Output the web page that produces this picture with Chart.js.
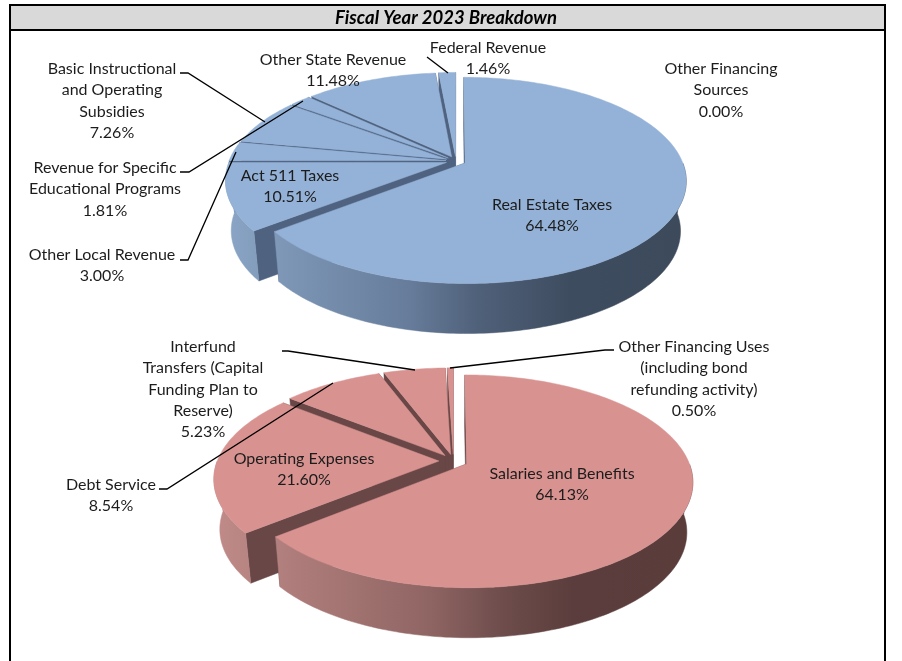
<!DOCTYPE html>
<html><head><meta charset="utf-8">
<script src="https://cdn.jsdelivr.net/npm/chart.js@4"></script>
<style>
html,body{margin:0;padding:0;background:#fff;overflow:hidden}
#frame{position:absolute;left:9px;top:4px;width:873px;height:700px;border:2px solid #000;box-sizing:content-box}
#strip{position:absolute;left:0;top:0;right:0;height:23px;background:#d9d9d9;border-bottom:2px solid #000}
canvas{position:absolute;left:0;top:0}
</style></head><body>
<div id="frame"><div id="strip"></div></div>
<canvas id="rev" width="902" height="661"></canvas>
<canvas id="exp" width="902" height="661"></canvas>
<script>
const chartTitle = 'Fiscal Year 2023 Breakdown';

const revenueLabels = ['Real Estate Taxes','Act 511 Taxes','Other Local Revenue','Basic Instructional and Operating Subsidies','Revenue for Specific Educational Programs','Other State Revenue','Federal Revenue','Other Financing Sources'];
const revenueValues = [64.48,10.51,3.00,7.26,1.81,11.48,1.46,0.00];
const expenseLabels = ['Salaries and Benefits','Operating Expenses','Debt Service','Interfund Transfers (Capital Funding Plan to Reserve)','Other Financing Uses (including bond refunding activity)'];
const expenseValues = [64.13,21.60,8.54,5.23,0.50];

/* display layout, kept apart from the data */
const revenueText = [
 {i:0,x:552,y:205,lines:['Real Estate Taxes']},
 {i:1,x:290,y:176,lines:['Act 511 Taxes']},
 {i:2,x:102,y:255,lines:['Other Local Revenue']},
 {i:3,x:112,y:69,lines:['Basic Instructional','and Operating','Subsidies']},
 {i:4,x:105,y:168,lines:['Revenue for Specific','Educational Programs']},
 {i:5,x:333,y:60,lines:['Other State Revenue']},
 {i:6,x:488,y:48,lines:['Federal Revenue']},
 {i:7,x:721,y:69,lines:['Other Financing','Sources']}
];
const expenseText = [
 {i:0,x:562,y:474,lines:['Salaries and Benefits']},
 {i:1,x:304,y:459,lines:['Operating Expenses']},
 {i:2,x:111,y:485,lines:['Debt Service']},
 {i:3,x:203,y:347,lines:['Interfund','Transfers (Capital','Funding Plan to','Reserve)']},
 {i:4,x:694,y:347,lines:['Other Financing Uses','(including bond','refunding activity)']}
];
const revenueLeaders = [[[180,73],[188,73],[265,122]],[[180,172],[189,172],[303,101]],[[180,260],[188,260],[236,152]],[[427,57],[448,73]]];
const expenseLeaders = [[[282,351],[288,351],[415,370]],[[159,489],[167,489],[333,383]],[[614,350],[605,350],[450,368]]];

const revenueStyle = {cx:456,cy:161,R:217,K:99.5,p:0.168,depth:50,shrink:0.975,xMin:226,xMax:686,explode:15,
  top:'#94b2d7',wall:'#4f6280',
  grad:[[0,'#8aa5c6'],[0.12,'#7e97b6'],[0.4,'#667c9a'],[0.55,'#4f6079'],[0.75,'#3e4c5f'],[1,'#3c4a5c']]};
const expenseStyle = {cx:453.5,cy:461,R:221.7,K:102.6,p:0.163,depth:50,shrink:0.975,xMin:213,xMax:694,explode:21,
  top:'#d89391',wall:'#684746',
  grad:[[0,'#c08b89'],[0.14,'#b17f7d'],[0.45,'#8f6563'],[0.6,'#6e4d4c'],[0.75,'#5a3d3c'],[1,'#5a3c3b']]};

function pie3d(style,textRows,values,leaders,withTitle){
  return {
    id:'pie3d',
    beforeDatasetsDraw(chart){
      const ctx=chart.ctx, arcs=chart.getDatasetMeta(0).data;
      const top=(u,v)=>{const w=1-style.p*v;return [style.cx+style.R*u/w,style.cy+style.K*v/w];};
      const base=(u,v)=>{const w=1-style.p*v;return [style.cx+style.R*style.shrink*u/w,style.cy+style.depth+style.K*v/w];};
      const grad=ctx.createLinearGradient(style.xMin,0,style.xMax,0);
      style.grad.forEach(s=>grad.addColorStop(s[0],s[1]));
      const poly=(pts,fill)=>{ctx.beginPath();pts.forEach((p,i)=>i?ctx.lineTo(p[0],p[1]):ctx.moveTo(p[0],p[1]));ctx.closePath();ctx.fillStyle=fill;ctx.fill();ctx.strokeStyle=fill;ctx.lineWidth=0.5;ctx.stroke();};
      const items=arcs.filter(a=>a.circumference>0).map(a=>{
        const mid=(a.startAngle+a.endAngle)/2, d=(a.options.offset||0)/a.outerRadius;
        return {a,mid,ox:d*Math.cos(mid),oy:d*Math.sin(mid)};
      }).sort((m,n)=>Math.sin(m.mid)-Math.sin(n.mid));
      items.forEach(it=>{
        const n=Math.max(2,Math.ceil(it.a.circumference/0.02)), rim=[], near=[];
        for(let k=0;k<=n;k++){
          const t=it.a.startAngle+it.a.circumference*k/n;
          const q=[it.ox+Math.cos(t),it.oy+Math.sin(t)];
          rim.push(q);
          if(Math.sin(t)>=0) near.push(q);
        }
        const topRim=rim.map(q=>top(q[0],q[1])), baseRim=rim.map(q=>base(q[0],q[1]));
        poly([top(it.ox,it.oy),topRim[0],baseRim[0],base(it.ox,it.oy)],style.wall);
        poly([top(it.ox,it.oy),topRim[n],baseRim[n],base(it.ox,it.oy)],style.wall);
        if(near.length>1){
          poly(near.map(q=>top(q[0],q[1])).concat(near.map(q=>base(q[0],q[1])).reverse()),grad);
        }
        poly([top(it.ox,it.oy)].concat(topRim),it.a.options.backgroundColor);
      });
      return false;
    },
    afterDraw(chart){
      const ctx=chart.ctx;
      ctx.save();
      ctx.strokeStyle='#000';ctx.lineWidth=1.3;
      leaders.forEach(l=>{ctx.beginPath();l.forEach((p,i)=>i?ctx.lineTo(p[0],p[1]):ctx.moveTo(p[0],p[1]));ctx.stroke();});
      ctx.fillStyle='#1c1c1c';ctx.textAlign='center';ctx.textBaseline='middle';
      ctx.font='16px Lato';
      textRows.forEach(r=>{
        const rows=r.lines.concat([values[r.i].toFixed(2)+'%']);
        rows.forEach((t,i)=>ctx.fillText(t,r.x,r.y+i*21.3));
      });
      if(withTitle){ctx.font='italic bold 18.5px Lato';ctx.fillStyle='#000';ctx.fillText(chartTitle,446,18);}
      ctx.restore();
    }
  };
}

function makeChart(id,labels,values,style,textRows,leaders,withTitle){
  return new Chart(document.getElementById(id),{
    type:'pie',
    data:{labels,datasets:[{data:values,backgroundColor:style.top,borderWidth:0,offset:style.explode}]},
    options:{responsive:false,animation:false,layout:{padding:0},
      plugins:{legend:{display:false},tooltip:{enabled:false},title:{display:false}}},
    plugins:[pie3d(style,textRows,values,leaders,withTitle)]
  });
}
makeChart('rev',revenueLabels,revenueValues,revenueStyle,revenueText,revenueLeaders,true);
makeChart('exp',expenseLabels,expenseValues,expenseStyle,expenseText,expenseLeaders,false);
</script>
</body></html>
